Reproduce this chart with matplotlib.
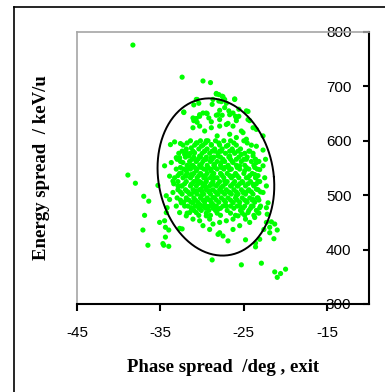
import numpy as np
import matplotlib
matplotlib.use('Agg')
import matplotlib.pyplot as plt
from matplotlib.lines import Line2D

plt.rcParams['axes.unicode_minus'] = False

# particle phase spread (deg) and energy spread (keV/u)
phase = [
    -38.3, -32.4, -29.9, -29.0, -38.9, -38.0, -37.0, -36.4, -36.9, -37.1,
    -36.5, -35.3, -34.5, -35.1, -34.5, -34.4, -34.0, -34.4, -34.7, -34.6,
    -34.0, -34.3, -34.2, -32.7, -32.4, -28.8, -25.3, -22.9, -21.3, -20.6,
    -21.0, -20.0, -23.6, -23.6, -24.8, -23.1, -22.6, -21.9, -21.4, -21.0,
    -21.3, -21.9, -22.3, -21.7,
    -28.3, -28.0, -27.5, -26.1, -30.6, -30.4, -31.0, -28.8, -28.0, -27.7,
    -27.1, -27.3, -26.8, -27.9, -28.3, -27.6, -26.3, -25.6, -24.5, -32.2,
    -29.9, -29.4, -30.3, -29.2, -30.7, -31.0, -28.9, -27.9, -26.9, -25.9,
    -24.3, -30.6,
    -30.7, -28.7, -28.3, -27.6, -27.3, -26.1, -25.6, -24.7, -26.0, -32.2,
    -31.1, -30.3, -29.5, -28.1, -26.7, -25.9, -24.5,
    -31.1, -30.3, -29.7, -28.9, -27.9, -27.1, -26.3, -25.3, -23.9, -23.5,
    -28.2, -26.7, -25.9, -25.1, -24.7, -22.7, -23.5,
    -33.8, -33.3, -32.6,
    -22.7, -22.4, -22.7, -22.5, -22.3, -22.7, -22.1, -22.3, -22.2,
    -31.9, -31.6, -33.1, -33.7, -33.9, -33.5, -32.9, -34.3, -33.9, -33.5,
    -32.5, -32.1, -33.1, -32.7, -31.9, -31.5, -31.1, -30.3, -29.9, -29.1,
    -28.7, -27.9, -27.5, -26.9, -28.1, -26.3, -25.5, -24.8, -24.3, -23.7,
    -23.3, -23.1, -23.9, -24.5, -25.7, -26.3, -27.1, -27.9, -29.1, -29.5,
    -30.7, -31.3, -31.9, -31.1, -30.3, -29.5, -28.7, -28.1, -27.1, -26.3,
    -25.5, -24.7, -23.9, -23.3, -23.5, -23.9, -23.3, -23.7, -23.1, -23.5,
    -23.9, -24.3, -24.7, -25.3, -25.9, -25.5, -24.9, -24.5, -25.1, -25.7,
    -25.1, -24.5, -25.9, -26.7, -26.5, -26.3, -26.7, -26.3, -26.7, -26.3,
    -27.1, -27.7, -28.1, -27.7, -27.3, -27.7, -27.3, -27.7, -28.1, -28.7,
    -29.1, -28.7, -28.5, -28.9, -28.5, -28.9, -28.5, -28.9, -29.5, -30.1,
    -30.7, -31.3, -30.9, -30.3, -29.7, -29.5, -30.1, -30.7, -31.3, -31.9,
    -31.3, -30.7, -30.1, -29.5, -29.5, -30.1, -30.7, -31.3, -31.9, -32.5,
    -32.3, -32.7, -32.1, -32.5, -31.9, -31.3, -30.7, -30.1, -29.5, -29.5,
    -30.1,
]
energy = [
    776, 717, 710, 707, 537, 522, 498, 489, 463, 436,
    408, 518, 554, 450, 453, 441, 436, 423, 411, 408,
    406, 468, 477, 439, 438, 381, 372, 375, 359, 356,
    349, 364, 405, 412, 418, 419, 437, 431, 420, 436,
    447, 441, 450, 451,
    687, 685, 681, 676, 676, 669, 666, 667, 673, 672,
    669, 661, 655, 656, 647, 647, 651, 645, 654, 652,
    651, 650, 645, 642, 641, 637, 635, 639, 632, 637,
    637, 634,
    676, 676, 686, 682, 676, 677, 658, 655, 645, 653,
    642, 648, 651, 648, 648, 642, 639,
    624, 627, 618, 624, 627, 630, 627, 618, 624, 621,
    609, 612, 606, 615, 603, 609, 590,
    593, 598, 595,
    583, 566, 554, 532, 517, 505, 486, 477, 465,
    579, 572, 569, 560, 535, 526, 517, 499, 492, 505,
    486, 480, 480, 468, 462, 468, 456, 453, 444, 437,
    447, 431, 425, 416, 428, 437, 444, 456, 450, 459,
    468, 477, 480, 468, 462, 456, 453, 450, 456, 462,
    468, 477, 492, 486, 483, 480, 483, 474, 480, 486,
    480, 489, 492, 495, 511, 520, 526, 538, 547, 560,
    572, 581, 566, 575, 566, 554, 545, 532, 523, 517,
    505, 508, 499, 505, 517, 535, 547, 560, 572, 581,
    590, 581, 572, 560, 551, 538, 526, 514, 502, 496,
    508, 520, 532, 544, 557, 569, 581, 593, 600, 590,
    596, 587, 578, 572, 581, 566, 557, 563, 554, 545,
    538, 545, 538, 547, 529, 523, 526, 520, 535, 541,
    560, 569, 575, 517, 508, 502, 508, 499, 492, 514,
    511,
]

# dense core of the beam, read row by row (energy level -> phases)
core_energy = [600, 596, 592, 585, 581, 577, 570, 566, 562, 555,
               551, 548, 540, 536, 532, 525, 521, 517, 510, 506,
               502, 495, 491, 487, 480, 476, 472, 467, 463]
core_phase = [
    [-31.4, -30.2, -29.3, -28.4, -27.4, -26.6, -25.0],
    [-31.8, -30.6, -29.6, -28.0, -26.2, -24.6],
    [-32.3, -30.9, -29.9, -28.9, -27.9, -26.9, -25.9, -24.1],
    [-31.9, -30.4, -29.4, -28.5, -27.6, -26.4, -25.4],
    [-32.4, -31.1, -29.7, -28.8, -27.9, -26.7, -25.7, -24.4],
    [-32.8, -31.4, -30.0, -29.1, -28.1, -27.2, -26.1, -24.9, -23.9],
    [-32.0, -31.0, -30.2, -29.5, -28.6, -27.8, -26.8, -25.6, -24.6],
    [-33.0, -31.2, -30.5, -29.7, -28.8, -27.5, -26.6, -25.0, -23.6],
    [-32.6, -31.5, -30.7, -29.9, -29.0, -28.2, -27.3, -26.4, -25.3, -24.1, -23.2],
    [-31.8, -31.1, -30.3, -29.4, -28.6, -27.8, -26.9, -25.9, -24.9, -23.8],
    [-32.6, -31.7, -30.9, -30.1, -29.3, -28.5, -27.7, -26.8, -25.8, -24.7, -23.7],
    [-33.1, -32.2, -31.4, -30.6, -29.8, -29.0, -28.2, -27.4, -26.5, -25.5, -24.4, -23.4],
    [-32.7, -31.8, -31.0, -30.2, -29.4, -28.6, -27.8, -27.0, -26.0, -25.0, -24.0],
    [-32.9, -32.0, -31.2, -30.4, -29.6, -28.8, -27.6, -26.7, -25.8, -24.3, -23.3],
    [-33.3, -32.3, -31.4, -30.6, -29.8, -29.0, -28.2, -27.4, -26.5, -25.6, -24.7, -23.6],
    [-32.9, -31.9, -31.0, -30.3, -29.5, -28.7, -27.9, -27.0, -26.1, -25.2, -24.2, -23.1],
    [-33.4, -32.1, -31.2, -30.5, -29.7, -28.9, -28.1, -27.2, -26.3, -25.5, -24.5, -23.5],
    [-32.4, -31.4, -30.7, -29.9, -29.1, -28.3, -27.5, -26.6, -25.8, -24.8, -23.8],
    [-32.9, -32.0, -31.1, -30.3, -29.5, -28.7, -27.9, -27.1, -26.2, -25.3, -24.4, -23.3],
    [-32.6, -31.7, -30.9, -30.0, -29.2, -28.4, -27.6, -26.8, -25.9, -25.0, -24.1, -23.0],
    [-32.4, -31.5, -30.6, -29.8, -29.0, -28.2, -27.3, -26.5, -25.7, -24.8, -23.9],
    [-33.0, -31.9, -31.0, -30.2, -29.4, -28.5, -27.7, -26.9, -26.0, -25.2, -24.3, -23.4],
    [-32.6, -31.6, -30.8, -29.9, -29.1, -28.3, -27.4, -26.6, -25.8, -24.9, -24.0, -23.2],
    [-32.2, -31.3, -30.5, -29.7, -28.9, -28.0, -27.2, -26.3, -25.5, -24.6, -23.7],
    [-31.7, -30.8, -29.9, -29.1, -28.3, -27.5, -26.6, -25.8, -24.9, -24.1, -23.0],
    [-31.3, -30.4, -29.6, -28.7, -27.8, -26.2, -25.1, -24.2],
    [-31.0, -30.1, -29.2, -28.4, -27.0, -25.4, -24.4, -23.5],
    [-31.8, -29.5, -28.2, -26.6, -25.2, -23.2],
    [-30.4, -29.0, -27.8, -26.0, -24.9, -23.8],
]

# ellipse drawn round the beam: centre, half widths, shear
ell_cx, ell_cy = -28.35, 533.5
ell_rx, ell_ry = 6.95, 144.5
ell_shear = -0.8

xTicks = [-45, -35, -25, -15]
yTicks = [300, 400, 500, 600, 700, 800]

allX = list(phase)
allY = list(energy)
for e, row in zip(core_energy, core_phase):
    allX += row
    allY += [e] * len(row)

fig = plt.figure(figsize=(3.85, 3.92), dpi=100)
ax = fig.add_axes([77 / 385, 1 - 304 / 392, 292 / 385, 272 / 392])

ax.scatter(allX, allY, s=14, color='#00ff00', edgecolors='none', zorder=2)

t = np.linspace(0, 2 * np.pi, 200)
ax.plot(ell_cx + ell_rx * np.cos(t) + ell_shear * np.sin(t),
        ell_cy + ell_ry * np.sin(t), color='black', lw=1.4, zorder=3)

ax.set_xlim(-45, -10)
ax.set_ylim(300, 800)
ax.set_xticks(xTicks)
ax.set_yticks(yTicks)

for s in ['left', 'top']:
    ax.spines[s].set_color('#a6a6a6')
    ax.spines[s].set_linewidth(1.2)
for s in ['bottom', 'right']:
    ax.spines[s].set_color('black')
    ax.spines[s].set_linewidth(1.5)

ax.yaxis.set_ticks_position('right')
ax.tick_params(axis='y', direction='in', length=4, width=1.5, pad=-31,
               labelsize=11, labelright=True, labelleft=False)
ax.tick_params(axis='x', direction='out', length=5, width=1.5, pad=11,
               labelsize=11)
for lab in ax.get_xticklabels() + ax.get_yticklabels():
    lab.set_fontfamily('Liberation Sans')

ax.set_xlabel('Phase spread  /deg , exit', fontsize=13.5, fontweight='bold',
              family='Liberation Serif')
ax.set_ylabel('Energy spread  / keV/u', fontsize=13.5, fontweight='bold',
              family='Liberation Serif')
ax.xaxis.set_label_coords(0.5, (304 - 367) / 272)
ax.xaxis.label.set_va('center')
ax.yaxis.set_label_coords((42 - 77) / 292, 0.5)
ax.yaxis.label.set_va('center')

# outer frame (only top and left edges show)
fig.add_artist(Line2D([14 / 385, 14 / 385], [1 - 7 / 392, 0], color='black', lw=1.2))
fig.add_artist(Line2D([14 / 385, 1], [1 - 7 / 392, 1 - 7 / 392], color='black', lw=1.2))

fig.savefig('out.png', dpi=100)
